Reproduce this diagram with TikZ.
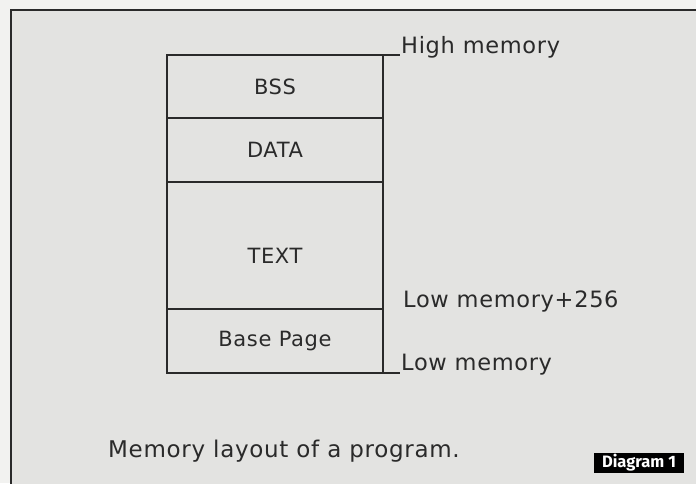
\documentclass[tikz,border=0pt]{standalone}
\usepackage{fontspec}
\setmainfont{DejaVu Sans}[LetterSpace=3]
\newfontfamily\tagfont{Fira Sans}
\usetikzlibrary{positioning}
\definecolor{paper}{HTML}{F2F2F0}
\definecolor{panel}{HTML}{E3E3E1}
\definecolor{ink}{HTML}{2A2A2A}

\begin{document}
\begin{tikzpicture}[x=1pt, y=-1pt, node distance=0pt, ink,
  seg/.style={draw, line width=1.3pt, minimum width=216pt, outer sep=0pt, inner sep=0pt,
    font=\fontsize{21}{24}\selectfont},
  lbl/.style={anchor=base west, inner sep=0pt, font=\fontsize{22.5}{26}\selectfont}]
% page and panel
\fill[paper] (0,0) rectangle (696,483);
\useasboundingbox (0,0) rectangle (696,483);
\draw[line width=2pt, fill=panel] (11,10) rectangle (720,510);

% memory blocks
\node[seg, minimum height=63pt] (bss) at (275,86.5) {BSS};
\node[seg, minimum height=64pt, below=of bss] (data) {DATA};
\node[seg, minimum height=127pt, below=of data] (text) {};
\node[seg, draw=none, yshift=-10pt] (textlbl) at (text.center) {TEXT};
\node[seg, minimum height=64pt, below=of text] (base) {Base Page};

% address labels
\coordinate (hi) at (400,55);
\coordinate (lo) at (400,373);
\draw[line width=1.3pt] (bss.north east) -- (hi);
\draw[line width=1.3pt] (base.south east) -- (lo);
\node[lbl] (himem) at (401,53) {High memory};
\node[lbl] (lowmem256) at (403,307) {Low memory+256};
\node[lbl] (lowmem) at (401,370) {Low memory};

% caption
\node[lbl, font=\fontsize{23}{26}\selectfont] (caption) at (108,457) {Memory layout of a program.};
\node[fill=black, text=white, inner sep=0pt, minimum width=90pt, minimum height=20pt,
  font=\tagfont\bfseries\fontsize{16.5}{17}\selectfont] (tag) at (639,463) {Diagram 1};
\end{tikzpicture}
\end{document}
